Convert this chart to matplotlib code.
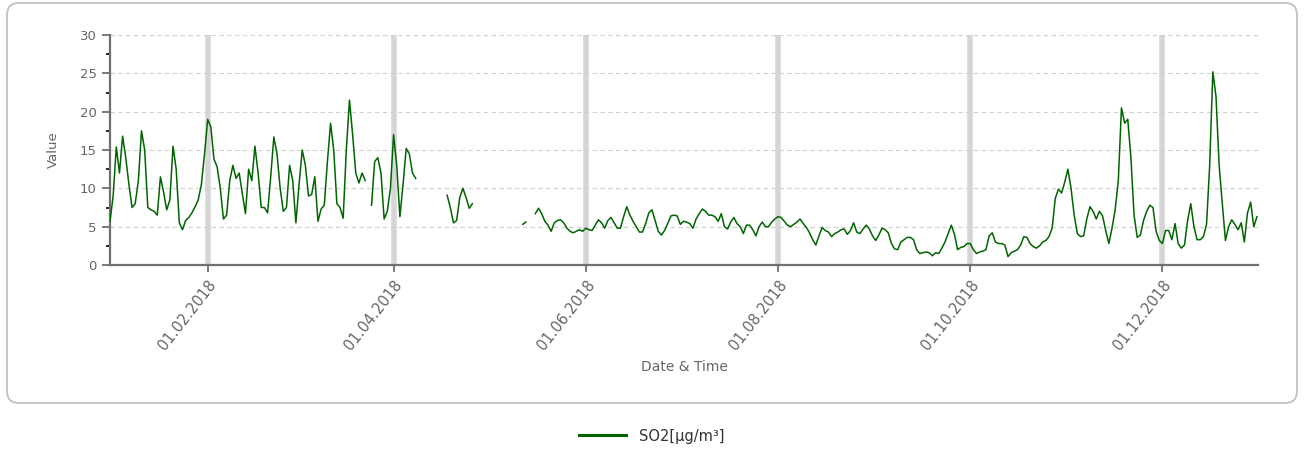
import numpy as np
import pandas as pd
import matplotlib
matplotlib.use("Agg")
from matplotlib import pyplot as plt
import matplotlib.dates as mdates
from matplotlib.patches import FancyBboxPatch
from matplotlib.lines import Line2D
from matplotlib.ticker import MultipleLocator

nan = np.nan
# daily SO2 values, 01.01.2018 - 31.12.2018 (nan = no data)
so2_jan_mar = [5.7, 9, 15.4, 12, 16.8, 14, 10.5, 7.5, 8, 11, 17.5, 15, 7.5, 7.2, 7, 6.5,
               11.5, 9.5, 7.2, 8.5, 15.5, 12.5, 5.5, 4.6, 5.8, 6.2, 6.8, 7.6, 8.5, 10.5, 14.5,
               19, 18, 13.8, 12.8, 10, 6, 6.5, 11, 13, 11.3, 12, 9.3, 6.7, 12.5, 11, 15.5,
               12, 7.5, 7.5, 6.8, 11.5, 16.7, 14.5, 10, 7, 7.5, 13, 11,
               5.5, 10.5, 15, 13, 9, 9.2, 11.5, 5.7, 7.3, 7.8, 13.5, 18.5, 15, 8, 7.5, 6.1,
               15, 21.5, 17, 12, 10.7, 12, 11, nan, 7.8, 13.5, 14, 12, 6, 7, 10]
so2_apr_may = [17, 13, 6.3, 10.5, 15.2, 14.5, 12, 11.3] + [nan] * 9 + \
              [9.1, 7.5, 5.5, 5.8, 8.8, 10, 8.8, 7.4, 8] + [nan] * 15 + \
              [5.3, 5.6, nan, nan] + \
              [6.7, 7.4, 6.7, 5.7, 5.2, 4.4, 5.5, 5.8, 5.9, 5.5, 4.8, 4.4, 4.2, 4.4, 4.6, 4.4]
so2_jun_sep = [4.8, 4.6, 4.5, 5.2, 5.9, 5.5, 4.8, 5.8, 6.2, 5.5, 4.8, 4.8, 6.3, 7.6,
               6.5, 5.7, 5, 4.3, 4.3, 5.4, 6.8, 7.2, 5.8, 4.4, 3.9, 4.5, 5.4, 6.4, 6.5, 6.4,
               5.3, 5.7, 5.6, 5.4, 4.8, 6, 6.7, 7.3, 7, 6.5, 6.5, 6.3, 5.7, 6.7, 5, 4.7, 5.6,
               6.2, 5.4, 5, 4.1, 5.2, 5.2, 4.6, 3.8, 5, 5.6, 5, 5, 5.6, 6, 6.3, 6.2, 5.7, 5.2,
               5, 5.3, 5.6, 6, 5.4, 4.9, 4.2, 3.3, 2.6, 3.8, 4.9, 4.5, 4.3, 3.7, 4.1,
               4.3, 4.6, 4.7, 4, 4.5, 5.5, 4.3, 4.1, 4.7, 5.2, 4.7, 3.8, 3.2, 3.9, 4.8, 4.6,
               4.2, 2.8, 2.1, 2, 3, 3.3, 3.6, 3.6, 3.3, 2, 1.5, 1.6, 1.7, 1.6, 1.2, 1.6, 1.5]
so2_oct_dec = [2.2, 3, 4.1, 5.2, 4, 2, 2.3, 2.4, 2.8, 2.8, 2, 1.5, 1.7, 1.8, 2, 3.8, 4.2, 3,
               2.8, 2.8, 2.6, 1.1, 1.6, 1.8, 2, 2.6, 3.7, 3.6, 2.8, 2.4, 2.2, 2.5,
               3, 3.2, 3.7, 4.8, 8.7, 9.9, 9.4, 10.8, 12.5, 10, 6.5, 4.1, 3.7, 3.8, 6, 7.6,
               7, 6, 7, 6.4, 4.5, 2.8, 4.8, 7.2, 11, 20.5, 18.5, 19, 14, 6.5, 3.6,
               3.9, 5.8, 7, 7.8, 7.5, 4.4, 3.2, 2.8, 4.5, 4.5, 3.3, 5.4, 2.8, 2.2, 2.6, 5.8,
               8, 5, 3.3, 3.3, 3.7, 5.3, 13, 25.2, 22, 13, 8, 3.2, 5, 5.9, 5.3, 4.6, 5.5, 3,
               6.8, 8.2, 5, 6.3]
so2 = np.array(so2_jan_mar + so2_apr_may + so2_jun_sep + so2_oct_dec, dtype=float)
dates = pd.date_range("2018-01-01", periods=len(so2), freq="D")
tick_dates = pd.to_datetime(["2018-02-01", "2018-04-01", "2018-06-01",
                             "2018-08-01", "2018-10-01", "2018-12-01"])
series_name = "SO2[µg/m³]"

txt = "#666666"
fig = plt.figure(figsize=(13.12, 4.5), dpi=100)
ax = fig.add_axes([110 / 1312, 1 - 265 / 450, 1148 / 1312, 230 / 450])

# rounded frame around the chart
frame = FancyBboxPatch((7, 47), 1290, 400, boxstyle="round,pad=0,rounding_size=12",
                       transform=None, fc="white", ec="#c8c8c8", lw=1.5, zorder=-10)
fig.patches.append(frame)

for d in tick_dates:
    ax.axvline(d, color="#d6d6d6", lw=4, zorder=1)
for v in range(5, 31, 5):
    ax.axhline(v, color="#d0d0d0", lw=0.8, ls=(0, (4, 3)), zorder=1)

ax.plot(dates, so2, color="#006400", lw=1.1, zorder=3)

ax.set_xlim(pd.Timestamp("2018-01-01"), pd.Timestamp("2018-12-31 08:00"))
ax.set_ylim(0, 30)
ax.set_xticks(tick_dates)
ax.xaxis.set_major_formatter(mdates.DateFormatter("%d.%m.%Y"))
ax.yaxis.set_major_locator(MultipleLocator(5))
ax.yaxis.set_minor_locator(MultipleLocator(2.5))
ax.set_facecolor("none")
for s in ["top", "right"]:
    ax.spines[s].set_visible(False)
for s in ["left", "bottom"]:
    ax.spines[s].set_color("#707070")
    ax.spines[s].set_linewidth(1.6)
ax.tick_params(axis="both", colors="#707070", labelcolor=txt, labelsize=9.5, width=1.3)
ax.tick_params(axis="y", which="major", length=6)
ax.tick_params(axis="y", which="minor", length=3, width=1.2)
ax.tick_params(axis="x", length=5, labelsize=10.5, pad=4)
for lab in ax.get_xticklabels():
    lab.set_rotation(52)
    lab.set_ha("right")
    lab.set_rotation_mode("anchor")

ax.set_ylabel("Value", color=txt, fontsize=9.5, labelpad=14)
ax.set_xlabel("Date & Time", color=txt, fontsize=10, labelpad=5)

handle = Line2D([], [], color="#006400", lw=2.2)
fig.legend([handle], [series_name], loc="center", bbox_to_anchor=(0.497, 0.031),
           frameon=False, fontsize=10.5, handlelength=3.2, handletextpad=0.9,
           labelcolor="#333333")

fig.savefig("out.png", dpi=100)
